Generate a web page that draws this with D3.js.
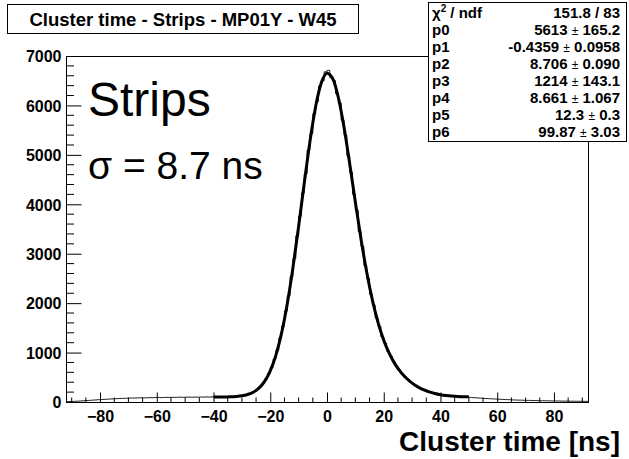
<!DOCTYPE html>
<html>
<head>
<meta charset="utf-8">
<script src="https://cdn.jsdelivr.net/npm/d3@7"></script>
<style>
  body { margin: 0; background: #fff; }
  svg { display: block; font-family: "Liberation Sans", Arial, Helvetica, sans-serif; }
</style>
</head>
<body>
<div class="chart"></div>
<script>
const WIDTH = 629;
const HEIGHT = 459;

const FRAME = {left: 66, right: 588, top: 56, bottom: 402};

// histogram: 1 ns bins from -92 to 92 (value = content of bin starting at binStart)
var binStart = d3.range(-92, 92);
var binCounts = [
  8, 10,
  12, 15, 18, 22, 25, 30, 34, 38, 42, 46,
  50, 53, 57, 60, 63, 66, 70, 72, 74, 76,
  79, 81, 80, 83, 85, 84, 86, 88, 87, 90,
  93, 89, 91, 94, 92, 95, 93, 96, 98, 94,
  97, 99, 96, 100, 98, 101, 99, 103, 100, 104,
  98, 104, 99, 105, 101, 108, 104, 112, 114, 125,
  128, 147, 158, 188, 212, 259, 305, 379, 458, 571,
  695, 868, 1045, 1290, 1535, 1840, 2150, 2540, 2905, 3360,
  3760, 4230, 4620, 5100, 5430, 5830, 6080, 6390, 6500, 6680,
  6710, 6560, 6500, 6240, 6050, 5700, 5400, 4980, 4650, 4200,
  3880, 3450, 3150, 2760, 2500, 2180, 1960, 1700, 1530, 1320,
  1190, 1030, 925, 810, 728, 640, 575, 505, 458, 402,
  365, 318, 294, 258, 240, 211, 197, 176, 168, 150,
  145, 132, 130, 120, 121, 110, 112, 104, 106, 98,
  93, 88, 86, 80, 78, 72, 70, 66, 63, 60,
  56, 54, 50, 48, 46, 42, 41, 38, 37, 35,
  33, 32, 30, 29, 28, 26, 25, 25, 23, 22,
  21, 21, 19, 18, 18, 17, 16, 15, 15, 14,
  13, 13
];

// fit curve, read every 2 ns over the fit range
var fitX = d3.range(-40, 51, 2);
var fitY = [
  101, 101, 103, 106, 113, 126, 152, 198, 280, 416,
  630, 949, 1398, 1990, 2719, 3554, 4434, 5273, 5977, 6457,
  6653, 6546, 6160, 5557, 4822, 4043, 3293, 2625, 2061, 1607,
  1251, 977, 767, 605, 480, 382, 306, 248, 204, 171,
  147, 131, 120, 112, 107, 104
];

var xTicks = [-80, -60, -40, -20, 0, 20, 40, 60, 80];
var yTicks = [0, 1000, 2000, 3000, 4000, 5000, 6000, 7000];

var titleText = "Cluster time - Strips - MP01Y - W45";
var xAxisTitle = "Cluster time [ns]";

var statNames = ["χ2 / ndf", "p0", "p1", "p2", "p3", "p4", "p5", "p6"];
var statValues = ["151.8 / 83", "5613|165.2", "-0.4359|0.0958", "8.706|0.090",
                  "1214|143.1", "8.661|1.067", "12.3|0.3", "99.87|3.03"];

var translate = function (x, y) {
    return "translate(" + x + "," + y + ")";
};

var svg = d3.select('.chart').append('svg')
    .attr('width', WIDTH)
    .attr('height', HEIGHT);

var xScale = d3.scaleLinear().domain([-92, 92]).range([FRAME.left, FRAME.right]);
var yScale = d3.scaleLinear().domain([0, 7000]).range([FRAME.bottom, FRAME.top]);

svg.append('defs').append('clipPath').attr('id', 'frameClip')
    .append('rect')
    .attr('x', FRAME.left).attr('y', FRAME.top)
    .attr('width', FRAME.right - FRAME.left).attr('height', FRAME.bottom - FRAME.top);

// histogram outline
var histPts = binStart.map(function (b, i) { return {x: b, y: binCounts[i]}; });
histPts.push({x: 92, y: binCounts[binCounts.length - 1]});
var histLine = d3.line()
    .x(function (q) { return xScale(q.x); })
    .y(function (q) { return yScale(q.y); })
    .curve(d3.curveStepAfter);

svg.append('path')
    .attr('clip-path', 'url(#frameClip)')
    .attr('d', histLine(histPts))
    .attr('fill', 'none')
    .attr('stroke', '#222')
    .attr('stroke-width', 1);

// fit function
var fitLine = d3.line()
    .x(function (d, i) { return xScale(fitX[i]); })
    .y(function (d) { return yScale(d); })
    .curve(d3.curveMonotoneX);

svg.append('path')
    .attr('clip-path', 'url(#frameClip)')
    .attr('d', fitLine(fitY))
    .attr('fill', 'none')
    .attr('stroke', '#000')
    .attr('stroke-width', 3)
    .attr('stroke-linejoin', 'round');

// frame
svg.append('rect')
    .attr('x', FRAME.left + 0.5).attr('y', FRAME.top + 0.5)
    .attr('width', FRAME.right - FRAME.left).attr('height', FRAME.bottom - FRAME.top)
    .attr('fill', 'none').attr('stroke', '#000').attr('stroke-width', 1);

// x axis: ticks point up into the frame
var xMinor = d3.range(-90, 91, 5).filter(function (v) { return v % 20 !== 0; });
var xAxis = d3.axisBottom(xScale).tickValues(xTicks).tickSize(-10).tickPadding(18)
    .tickFormat(d3.format('d'));
var gx = svg.append('g')
    .attr('transform', translate(0, FRAME.bottom + 0.5))
    .call(xAxis);
gx.append('g').selectAll('line').data(xMinor).enter().append('line')
    .attr('x1', function (v) { return xScale(v); })
    .attr('x2', function (v) { return xScale(v); })
    .attr('y1', 0).attr('y2', -5)
    .attr('stroke', '#000');

// y axis: ticks point right into the frame
var yMinor = d3.range(0, 7001, 200).filter(function (v) { return v % 1000 !== 0; });
var yAxis = d3.axisLeft(yScale).tickValues(yTicks).tickSize(-15).tickPadding(20)
    .tickFormat(d3.format('d'));
var gy = svg.append('g')
    .attr('transform', translate(FRAME.left + 0.5, 0))
    .call(yAxis);
gy.append('g').selectAll('line').data(yMinor).enter().append('line')
    .attr('y1', function (v) { return yScale(v); })
    .attr('y2', function (v) { return yScale(v); })
    .attr('x1', 0).attr('x2', 7.5)
    .attr('stroke', '#000');

[gx, gy].forEach(function (g) {
    g.select('.domain').remove();
    g.selectAll('.tick line').attr('stroke', '#000');
    g.selectAll('.tick text')
        .attr('fill', '#000')
        .style('font-family', '"Liberation Sans", Arial, sans-serif')
        .style('font-weight', 'bold')
        .style('font-size', '16px');
});
gy.selectAll('.tick text').attr('dy', '0.36em').attr('x', -5);
gx.selectAll('.tick text').attr('dy', '0.71em').attr('y', 8);

// axis title
svg.append('text')
    .attr('x', 620).attr('y', 451)
    .attr('text-anchor', 'end')
    .style('font-weight', 'bold').style('font-size', '28px')
    .text(xAxisTitle);

// title box
svg.append('rect')
    .attr('x', 7.5).attr('y', 4.5).attr('width', 351).attr('height', 29)
    .attr('fill', '#fff').attr('stroke', '#000').attr('stroke-width', 1);
svg.append('text')
    .attr('x', 183).attr('y', 25.5)
    .attr('text-anchor', 'middle')
    .style('font-weight', 'bold').style('font-size', '18.5px')
    .text(titleText);

// big labels
svg.append('text')
    .attr('x', 88).attr('y', 116)
    .style('font-size', '48px')
    .text('Strips');
svg.append('text')
    .attr('x', 88).attr('y', 179)
    .style('font-size', '39px')
    .text('σ = 8.7 ns');

// stats box
var STATS = {left: 428, right: 626, top: 2, bottom: 141};
svg.append('rect')
    .attr('x', STATS.left + 0.5).attr('y', STATS.top + 0.5)
    .attr('width', STATS.right - STATS.left).attr('height', STATS.bottom - STATS.top)
    .attr('fill', '#fff').attr('stroke', '#000').attr('stroke-width', 1);

var rowY = d3.scaleLinear().domain([0, 1]).range([17.5, 34.5]);

statNames.forEach(function (name, i) {
    var t = svg.append('text')
        .attr('x', STATS.left + 4).attr('y', rowY(i))
        .style('font-weight', 'bold').style('font-size', '15px');
    if (i === 0) {
        t.append('tspan').text('χ');
        t.append('tspan').attr('dy', -6).style('font-size', '10px').text('2');
        t.append('tspan').attr('dy', 6).text(' / ndf');
    } else {
        t.text(name);
    }

    var v = svg.append('text')
        .attr('x', STATS.right - 6).attr('y', rowY(i))
        .attr('text-anchor', 'end')
        .style('font-weight', 'bold').style('font-size', '15px');
    var parts = statValues[i].split('|');
    if (parts.length === 1) {
        v.text(parts[0]);
    } else {
        v.append('tspan').text(parts[0] + ' ');
        v.append('tspan').style('font-weight', 'normal').style('font-size', '12px').text('±');
        v.append('tspan').text(' ' + parts[1]);
    }
});
</script>
</body>
</html>
